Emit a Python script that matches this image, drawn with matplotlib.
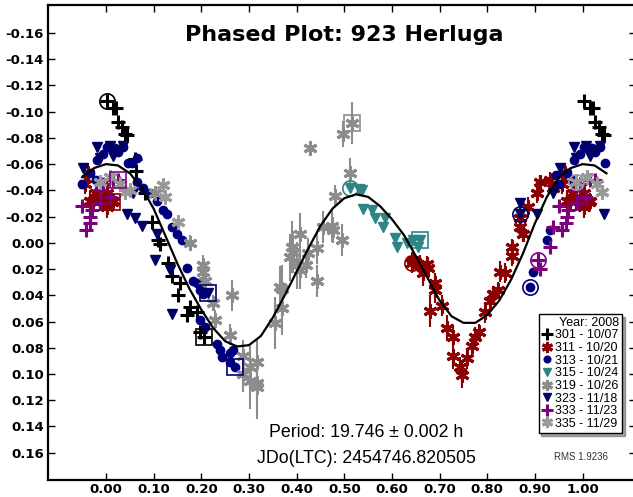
import numpy as np
import matplotlib
matplotlib.use("Agg")
import matplotlib.pyplot as plt
from matplotlib.lines import Line2D

plt.rcParams['font.family'] = ['Liberation Sans', 'DejaVu Sans']

title = "Phased Plot: 923 Herluga"
period_text = "Period: 19.746 \u00b1 0.002 h"
jdo_text = "JDo(LTC): 2454746.820505"
rms_text = "RMS 1.9236"
legend_title = "Year: 2008"

# Fourier fit curve (phase, mag)
curve_phase = [-0.05, -0.025, 0.0, 0.025, 0.05, 0.075, 0.10, 0.125, 0.15, 0.175, 0.20, 0.225,
               0.25, 0.275, 0.30, 0.325, 0.35, 0.375, 0.40, 0.425, 0.45, 0.475, 0.50, 0.525,
               0.55, 0.575, 0.60, 0.625, 0.65, 0.675, 0.70, 0.725, 0.75, 0.775, 0.80, 0.825,
               0.85, 0.875, 0.90, 0.925, 0.95, 0.975, 1.00, 1.025, 1.05]
curve_mag = [-0.050, -0.057, -0.060, -0.059, -0.053, -0.042, -0.026, -0.005, 0.016, 0.035,
             0.051, 0.065, 0.075, 0.079, 0.078, 0.071, 0.057, 0.040, 0.022, 0.004, -0.013,
             -0.026, -0.034, -0.037, -0.035, -0.028, -0.018, -0.006, 0.010, 0.027, 0.044,
             0.056, 0.061, 0.061, 0.055, 0.044, 0.028, 0.008, -0.015, -0.035, -0.050, -0.057,
             -0.060, -0.059, -0.053]

# ---- session data: phase, magnitude, error ----
s301_ph = [0.002, 0.015, 0.022, 0.025, 0.034, 0.040, 0.044, 0.061, 0.063, 0.082, 0.097, 0.109,
           0.113, 0.130, 0.138, 0.155, 0.151, 0.176, 0.170, 0.190, 0.197, 0.206]
s301_mag = [-0.108, -0.103, -0.103, -0.092, -0.088, -0.083, -0.082, -0.064, -0.055, -0.038,
            -0.016, -0.002, 0.001, 0.015, 0.025, 0.031, 0.040, 0.049, 0.055, 0.053, 0.068, 0.072]
s301_err = [0.0] * 22

s311_ph = [0.642, 0.644, 0.659, 0.665, 0.673, 0.676, 0.690, 0.690, 0.680, 0.705, 0.715, 0.728,
           0.728, 0.743, 0.747, 0.757, 0.767, 0.774, 0.783, 0.795, 0.806, 0.812, 0.822, 0.827,
           0.837, 0.852, 0.852, 0.868, 0.868, 0.875, 0.886, 0.904, 0.910, 0.931, 0.938, 0.956,
           0.962, 0.967, 0.973, 0.980, 0.987, 0.994, 0.002, 0.002, 0.013, 0.015]
s311_mag = [0.015, 0.013, 0.017, 0.023, 0.016, 0.019, 0.036, 0.031, 0.052, 0.048, 0.065, 0.072,
            0.086, 0.095, 0.101, 0.088, 0.079, 0.072, 0.068, 0.053, 0.044, 0.039, 0.036, 0.022,
            0.023, 0.010, 0.003, -0.012, -0.019, -0.007, -0.027, -0.038, -0.046, -0.048, -0.042,
            -0.045, -0.053, -0.032, -0.032, -0.038, -0.032, -0.032, -0.038, -0.027, -0.031, -0.032]
s311_err = [0.008, 0.006, 0.008, 0.010, 0.006, 0.008, 0.010, 0.008, 0.012, 0.008, 0.010, 0.008,
            0.010, 0.008, 0.010, 0.008, 0.008, 0.008, 0.006, 0.008, 0.008, 0.006, 0.006, 0.008,
            0.008, 0.008, 0.006, 0.008, 0.008, 0.006, 0.008, 0.008, 0.006, 0.006, 0.008, 0.008,
            0.008, 0.008, 0.008, 0.006, 0.008, 0.006, 0.008, 0.008, 0.006, 0.006]

s313_ph = [0.002, 0.019, 0.036, 0.025, 0.994, 0.981, 0.054, 0.065, 0.065, 0.078, 0.092, 0.107,
           0.120, 0.128, 0.138, 0.149, 0.159, 0.170, 0.183, 0.190, 0.197, 0.204, 0.197, 0.208,
           0.233, 0.239, 0.243, 0.260, 0.266, 0.260, 0.270, 0.890, 0.896, 0.925, 0.931, 0.967,
           0.980, 0.047, 0.945, 0.950]
s313_mag = [-0.073, -0.072, -0.073, -0.069, -0.068, -0.063, -0.061, -0.065, -0.046, -0.042, -0.038,
            -0.032, -0.025, -0.022, -0.012, -0.007, -0.002, 0.019, 0.029, 0.031, 0.036, 0.039,
            0.059, 0.064, 0.077, 0.082, 0.087, 0.084, 0.082, 0.091, 0.095, 0.034, 0.022, -0.002,
            -0.010, -0.053, -0.048, -0.061, -0.052, -0.045]
s313_err = [0.0] * 40

s315_ph = [0.512, 0.530, 0.537, 0.540, 0.558, 0.564, 0.585, 0.581, 0.606, 0.610, 0.631, 0.644,
           0.659, 0.655]
s315_mag = [-0.042, -0.041, -0.040, -0.026, -0.025, -0.019, -0.019, -0.012, -0.004, 0.003, 0.000,
            -0.002, -0.002, 0.003]
s315_err = [0.0] * 14

s319_ph = [0.103, 0.176, 0.204, 0.204, 0.208, 0.224, 0.229, 0.264, 0.260, 0.287, 0.316, 0.287,
           0.302, 0.316, 0.302, 0.316, 0.355, 0.369, 0.369, 0.365, 0.386, 0.390, 0.392, 0.400,
           0.407, 0.407, 0.420, 0.424, 0.428, 0.442, 0.442, 0.455, 0.474, 0.476, 0.480, 0.495,
           0.497, 0.512, 0.516]
s319_mag = [-0.038, 0.000, 0.017, 0.022, 0.029, 0.046, 0.059, 0.040, 0.070, 0.086, 0.091, 0.100,
            0.105, 0.107, 0.095, 0.110, 0.061, 0.050, 0.035, 0.034, 0.011, 0.003, 0.007, 0.017,
            -0.007, 0.021, 0.017, 0.008, -0.072, 0.004, 0.029, -0.012, -0.013, -0.010, -0.036,
            -0.002, -0.083, -0.053, -0.091]
s319_err = [0.004, 0.006, 0.008, 0.006, 0.008, 0.006, 0.008, 0.012, 0.008, 0.012, 0.018, 0.014,
            0.022, 0.020, 0.016, 0.024, 0.020, 0.020, 0.018, 0.016, 0.018, 0.020, 0.016, 0.018,
            0.016, 0.014, 0.010, 0.012, 0.006, 0.012, 0.012, 0.012, 0.012, 0.010, 0.008, 0.012,
            0.010, 0.012, 0.016]

s323_ph = [0.952, 0.981, 0.008, 0.036, 0.987, 0.044, 0.061, 0.075, 0.057, 0.107, 0.103, 0.134,
           0.138, 0.214, 0.868, 0.868, 0.904, 0.938, 0.015, 0.025]
s323_mag = [-0.057, -0.073, -0.074, -0.074, -0.065, -0.022, -0.019, -0.013, -0.038, -0.007, 0.013,
            0.021, 0.054, 0.038, -0.030, -0.022, -0.022, -0.038, -0.066, -0.070]
s323_err = [0.0] * 20

s333_ph = [0.966, 0.970, 0.987, 0.994, 0.008, 0.015, 0.025, 0.931, 0.938, 0.967, 0.988, 0.906,
           0.910, 0.950, 0.957]
s333_mag = [-0.015, -0.025, -0.040, -0.045, -0.035, -0.048, -0.048, 0.003, -0.012, -0.020, -0.030,
            0.013, 0.020, -0.028, -0.010]
s333_err = [0.004] * 15

s335_ph = [0.987, 0.009, 0.030, 0.040, 0.050, 0.120, 0.124, 0.151]
s335_mag = [-0.046, -0.050, -0.045, -0.039, -0.040, -0.044, -0.035, -0.016]
s335_err = [0.004, 0.004, 0.006, 0.004, 0.004, 0.004, 0.004, 0.004]

labels = ["301 - 10/07", "311 - 10/20", "313 - 10/21", "315 - 10/24",
          "319 - 10/26", "323 - 11/18", "333 - 11/23", "335 - 11/29"]
colors = ["#000000", "#8b0000", "#00007f", "#2f8585", "#8c8c8c", "#000066", "#7f007f", "#999999"]
markers = ["+", (6, 2, 0), "o", "v", (6, 2, 0), "v", "+", (6, 2, 0)]
msizes = [10, 10, 6, 7.5, 10, 7.5, 10, 10]
mews = [2.2, 2.2, 1.0, 1.0, 2.2, 1.0, 2.2, 2.2]
series = [(s301_ph, s301_mag, s301_err), (s311_ph, s311_mag, s311_err),
          (s313_ph, s313_mag, s313_err), (s315_ph, s315_mag, s315_err),
          (s319_ph, s319_mag, s319_err), (s323_ph, s323_mag, s323_err),
          (s333_ph, s333_mag, s333_err), (s335_ph, s335_mag, s335_err)]
# index of first (circled) and last (boxed) point per session
circle_idx = [0, 0, 31, 0, None, 15, 11, 0]
box_idx = [21, 44, 30, 12, 38, 13, 6, None]

fig = plt.figure(figsize=(6.33, 4.97), dpi=100)
ax = fig.add_axes([48 / 633, 17 / 497, 588 / 633, 475 / 497])

for (ph, mg, er), c, m, ms, mw in zip(series, colors, markers, msizes, mews):
    ph = np.asarray(ph); mg = np.asarray(mg); er = np.asarray(er)
    xs = np.concatenate([ph, ph[ph > 0.945] - 1.0, ph[ph < 0.05] + 1.0])
    ys = np.concatenate([mg, mg[ph > 0.945], mg[ph < 0.05]])
    es = np.concatenate([er, er[ph > 0.945], er[ph < 0.05]])
    if np.any(es > 0):
        ax.errorbar(xs, ys, yerr=es, fmt="none", ecolor=c, elinewidth=1.5, capsize=0, zorder=2)
    ax.plot(xs, ys, linestyle="none", marker=m, markersize=ms, color=c,
            markeredgecolor=c, markeredgewidth=mw, zorder=3)

for (ph, mg, er), c, ci, bi in zip(series, colors, circle_idx, box_idx):
    if ci is not None:
        ax.plot([ph[ci]], [mg[ci]], linestyle="none", marker="o", markersize=11,
                markerfacecolor="none", markeredgecolor=c, markeredgewidth=1.2, zorder=4)
    if bi is not None:
        ax.plot([ph[bi]], [mg[bi]], linestyle="none", marker="s", markersize=11,
                markerfacecolor="none", markeredgecolor=c, markeredgewidth=1.2, zorder=4)

ax.plot(curve_phase, curve_mag, color="black", linewidth=1.6, zorder=5)

ax.set_xlim(-0.1217, 1.112)
ax.set_ylim(0.1808, -0.1813)
xt = np.round(np.arange(0, 1.001, 0.1), 2)
yt = np.round(np.arange(-0.16, 0.1601, 0.02), 2)
ax.set_xticks(xt)
ax.set_xticklabels(["%.2f" % v for v in xt])
ax.set_yticks(yt)
ax.set_yticklabels(["%.2f" % v if abs(v) > 1e-9 else "0.00" for v in yt])
ax.tick_params(axis="both", direction="in", length=5, width=1.0, top=True, right=True)
ax.tick_params(axis="y", pad=3)
ax.tick_params(axis="x", pad=2)
for lab in ax.get_xticklabels() + ax.get_yticklabels():
    lab.set_fontweight("bold")
    lab.set_family("DejaVu Sans")
    lab.set_fontsize(9.5)
for s in ax.spines.values():
    s.set_linewidth(1.6)

ax.text(0.503, 0.937, title, transform=ax.transAxes, ha="center", va="center",
        fontsize=16, fontweight="bold", family="DejaVu Sans")
ax.text(0.541, 0.099, period_text, transform=ax.transAxes, ha="center", va="center", fontsize=12.8)
ax.text(0.541, 0.046, jdo_text, transform=ax.transAxes, ha="center", va="center", fontsize=12.8)
ax.text(0.906, 0.048, rms_text, transform=ax.transAxes, ha="center", va="center",
        fontsize=7, color="#333333")

handles = [Line2D([], [], linestyle="none", marker=m, markersize=ms * 0.8, color=c,
                  markeredgecolor=c, markeredgewidth=mw)
           for c, m, ms, mw in zip(colors, markers, msizes, mews)]
leg = ax.legend(handles, labels, title=legend_title, loc="lower right",
                bbox_to_anchor=(0.976, 0.099), borderaxespad=0, fontsize=9,
                title_fontsize=9, frameon=True, fancybox=False, shadow=True,
                handlelength=0.8, handletextpad=0.3, labelspacing=0.05,
                borderpad=0.25, framealpha=1)
leg.get_frame().set_edgecolor("black")
leg.get_frame().set_linewidth(1.0)
leg._legend_box.align = "right"

fig.savefig("out.png", dpi=100)
